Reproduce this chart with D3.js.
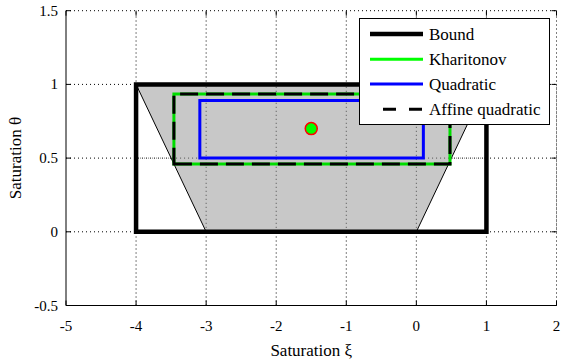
<!DOCTYPE html>
<html><head><meta charset="utf-8">
<script src="https://cdn.jsdelivr.net/npm/d3@7"></script>
<style>body{margin:0;background:#fff}svg{display:block}</style>
</head><body><svg id="c" width="561" height="362"></svg>
<script>
const xTicks = [-5,-4,-3,-2,-1,0,1,2];
const yTicks = [-0.5,0,0.5,1,1.5];
const yTickLabels = ["-0.5","0","0.5","1","1.5"];
const boundX = [-4,1,1,-4,-4];
const boundY = [0,0,1,1,0];
const regionX = [-4,1,0,-3];
const regionY = [1,1,0,0];
const kharX = [-3.46,0.48,0.48,-3.46,-3.46];
const kharY = [0.46,0.46,0.935,0.935,0.46];
const quadX = [-3.09,0.1,0.1,-3.09,-3.09];
const quadY = [0.5,0.5,0.89,0.89,0.5];
const pointX = [-1.5];
const pointY = [0.7];
const legendNames = ["Bound","Kharitonov","Quadratic","Affine quadratic"];

const FF = "Liberation Serif";
const svg = d3.select("#c");
const L=66, R=556.5, T=10.7, B=305.5;
const x = d3.scaleLinear().domain([-5,2]).range([L,R]);
const y = d3.scaleLinear().domain([-0.5,1.5]).range([B,T]);
const pts = (xs,ys)=>xs.map((v,i)=>[x(v),y(ys[i])]);
const line = d3.line();

// grid
const g = svg.append("g");
xTicks.filter(v=>v!==-5).forEach(v=>{
  g.append("line").attr("x1",x(v)).attr("x2",x(v)).attr("y1",B).attr("y2",T)
   .attr("stroke","#000").attr("stroke-width",1).attr("stroke-dasharray","1,3");
});
yTicks.filter(v=>v!==-0.5).forEach(v=>{
  g.append("line").attr("x1",L).attr("x2",R).attr("y1",y(v)).attr("y2",y(v))
   .attr("stroke","#000").attr("stroke-width",1).attr("stroke-dasharray","1,3");
});

// region
svg.append("path").attr("d",line(pts(regionX,regionY))+"Z").attr("fill","#c8c8c8").attr("stroke","#000").attr("stroke-width",1);
const g2 = svg.append("g");
xTicks.filter(v=>v!==-5).forEach(v=>{
  g2.append("line").attr("x1",x(v)).attr("x2",x(v)).attr("y1",y(0)).attr("y2",y(1))
   .attr("stroke","#000").attr("stroke-width",1).attr("stroke-dasharray","1,3").attr("opacity",0.6);
});
yTicks.filter(v=>v===0.5).forEach(v=>{
  g2.append("line").attr("x1",x(-4)).attr("x2",x(1)).attr("y1",y(v)).attr("y2",y(v))
   .attr("stroke","#000").attr("stroke-width",1).attr("stroke-dasharray","1,3").attr("opacity",0.6);
});

// bound
svg.append("path").attr("d",line(pts(boundX,boundY))+"Z").attr("fill","none").attr("stroke","#000").attr("stroke-width",4.5);
// Kharitonov
svg.append("path").attr("d",line(pts(kharX,kharY))+"Z").attr("fill","none").attr("stroke","#00dd00").attr("stroke-width",3);
// Quadratic
svg.append("path").attr("d",line(pts(quadX,quadY))+"Z").attr("fill","none").attr("stroke","#0000ff").attr("stroke-width",3);
// Affine quadratic
svg.append("path").attr("d",line(pts(kharX,kharY))+"Z").attr("fill","none").attr("stroke","#000").attr("stroke-width",3).attr("stroke-dasharray","18,8");
// point
svg.selectAll("circle.pt").data(pointX).enter().append("circle")
  .attr("cx",(d)=>x(d)).attr("cy",(d,i)=>y(pointY[i])).attr("r",6)
  .attr("fill","#00ff00").attr("stroke","#ff0000").attr("stroke-width",1.5);

// axes
const ax = svg.append("g");
ax.append("line").attr("x1",L).attr("x2",R).attr("y1",B).attr("y2",B).attr("stroke","#000");
ax.append("line").attr("x1",L).attr("x2",L).attr("y1",B).attr("y2",T).attr("stroke","#000");
xTicks.forEach(v=>{
  ax.append("line").attr("x1",x(v)).attr("x2",x(v)).attr("y1",B).attr("y2",B-5).attr("stroke","#000");
  ax.append("line").attr("x1",x(v)).attr("x2",x(v)).attr("y1",T).attr("y2",T+5).attr("stroke","#000");
  ax.append("text").attr("x",x(v)).attr("y",B+25).attr("text-anchor","middle").style("font-family",FF).style("font-size","15px").text(String(v));
});
yTicks.forEach((v,i)=>{
  ax.append("line").attr("x1",L).attr("x2",L+5).attr("y1",y(v)).attr("y2",y(v)).attr("stroke","#000");
  ax.append("line").attr("x1",R).attr("x2",R-5).attr("y1",y(v)).attr("y2",y(v)).attr("stroke","#000");
  ax.append("text").attr("x",L-8).attr("y",y(v)+5).attr("text-anchor","end").style("font-family",FF).style("font-size","15px").text(yTickLabels[i]);
});
svg.append("text").attr("x",(L+R)/2).attr("y",356).attr("text-anchor","middle").style("font-family",FF).style("font-size","17px").text("Saturation ξ");
svg.append("text").attr("transform",`translate(21,${(T+B)/2}) rotate(-90)`).attr("text-anchor","middle").style("font-family",FF).style("font-size","17px").text("Saturation θ");

// legend
const lg = svg.append("g");
lg.append("rect").attr("x",359.5).attr("y",18.5).attr("width",190).attr("height",106).attr("fill","#fff").attr("stroke","#000");
const ly = [34,59.3,84,109.3];
const styles = [
  {c:"#000",w:4.5,d:null},
  {c:"#00ff00",w:3,d:null},
  {c:"#0000ff",w:3,d:null},
  {c:"#000",w:3,d:"13,13",o:13}
];
legendNames.forEach((n,i)=>{
  const s=styles[i];
  const l=lg.append("line").attr("x1",370).attr("x2",423).attr("y1",ly[i]).attr("y2",ly[i]).attr("stroke",s.c).attr("stroke-width",s.w);
  if(s.d) l.attr("stroke-dasharray",s.d).attr("stroke-dashoffset",s.o);
  lg.append("text").attr("x",429).attr("y",ly[i]+6).style("font-family",FF).style("font-size","17px").text(n);
});
</script></body></html>
